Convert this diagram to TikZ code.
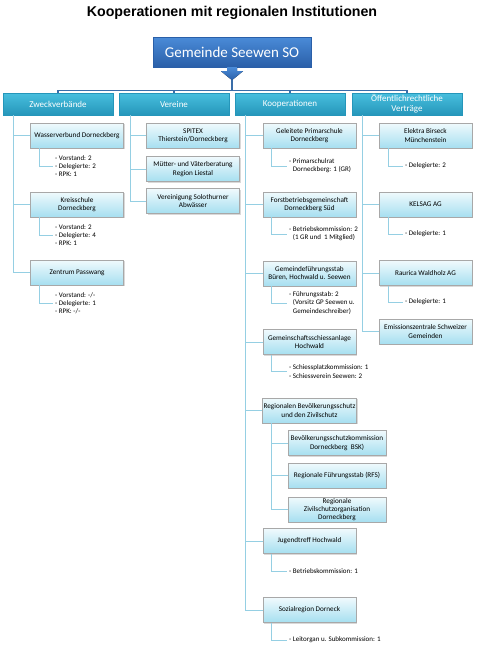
\documentclass[tikz,border=0pt]{standalone}
\usepackage{fontspec}
\setmainfont{Carlito}
\newfontfamily\titlefont{Liberation Sans}
\usetikzlibrary{shadows}

\definecolor{topA}{HTML}{4A8BD8}
\definecolor{topB}{HTML}{2A5FA8}
\definecolor{catA}{HTML}{48BFDE}
\definecolor{catB}{HTML}{2596BA}
\definecolor{itemA}{HTML}{F0FAFD}
\definecolor{itemB}{HTML}{A6DFF0}
\definecolor{itemline}{HTML}{A8A8A8}
\definecolor{busline}{HTML}{3A6DA8}
\definecolor{linkline}{HTML}{95CFE3}

\tikzset{%
  every node/.style={
    inner sep=1pt
  },
  softshadow/.style={
    drop shadow={shadow xshift=1.2pt, shadow yshift=-1.2pt, opacity=0.3}
  },
  topbox/.style={
    top color=topA, bottom color=topB, draw=topB, text=white,
    minimum width=158pt, minimum height=30pt, softshadow,
    font=\fontsize{15}{18}\selectfont
  },
  catbox/.style={
    top color=catA, bottom color=catB, draw=catB, text=white,
    minimum width=110pt, minimum height=22pt, align=center, softshadow,
    font=\fontsize{9}{10}\selectfont
  },
  itembox/.style={
    top color=itemA, bottom color=itemB, draw=itemline,
    minimum width=93pt, minimum height=25pt, align=center, softshadow,
    font=\fontsize{7.2}{8.3}\selectfont
  },
  note/.style={
    anchor=west, align=left, inner sep=2pt,
    font=\fontsize{7}{8.2}\selectfont
  },
  bus/.style={draw=busline, line width=1.3pt},
  link/.style={draw=linkline, line width=0.9pt}
}

\newcommand{\ind}{\phantom{- }}

\begin{document}
\begin{tikzpicture}[x=1pt,y=-1pt]
  \useasboundingbox (0,0) rectangle (480,645);

  % title and top
  \node at (232,12.5) (title) {\titlefont\fontsize{14.2}{16}\selectfont\bfseries Kooperationen mit regionalen Institutionen};
  \node[topbox] at (232,52) (gem) {Gemeinde Seewen SO};
  \fill[top color=topA, bottom color=topB]
    ([xshift=-5pt]gem.south) -- ++(0,4) -- ++(-6,0) -- ++(11,9)
    -- ++(11,-9) -- ++(-6,0) -- ++(0,-4) -- cycle;
  \coordinate (tip) at ([yshift=-13pt]gem.south);

  % four groups
  \node[catbox] at (58,104) (zw) {Zweckverbände};
  \node[catbox] at (174,104) (ver) {Vereine};
  \node[catbox] at (290,104) (koop) {Kooperationen};
  \node[catbox] at (407,104) (oeff) {Öffentlichrechtliche\\Verträge};
  \draw[bus] (tip) -- ++(0,10) -| (zw.north);
  \draw[bus] (tip) -- ++(0,10) -| (ver.north);
  \draw[bus] (tip) -- ++(0,10) -| (koop.north);
  \draw[bus] (tip) -- ++(0,10) -| (oeff.north);

  % Zweckverbaende
  \node[itembox] at (77,135.5) (wasser) {Wasserverbund Dorneckberg};
  \node[itembox] at (77,204.5) (kreis) {Kreisschule\\Dorneckberg};
  \node[itembox] at (77,272.5) (passw) {Zentrum Passwang};
  \node[note] at (53,166) (wassern) {- Vorstand: 2\\- Delegierte: 2\\- RPK: 1};
  \node[note] at (53,235) (kreisn) {- Vorstand: 2\\- Delegierte: 4\\- RPK: 1};
  \node[note] at (53,303) (passwn) {- Vorstand: -/-\\- Delegierte: 1\\- RPK: -/-};
  \draw[link] ([xshift=11pt]zw.south west) |- (wasser.west);
  \draw[link] ([xshift=11pt]zw.south west) |- (kreis.west);
  \draw[link] ([xshift=11pt]zw.south west) |- (passw.west);
  \draw[link] ([xshift=9pt]wasser.south west) |- (wassern.west);
  \draw[link] ([xshift=9pt]kreis.south west) |- (kreisn.west);
  \draw[link] ([xshift=9pt]passw.south west) |- (passwn.west);

  % Vereine
  \node[itembox] at (193,135.5) (spitex) {SPITEX\\Thierstein/Dorneckberg};
  \node[itembox] at (193,169) (mvb) {Mütter- und Väterberatung\\Region Liestal};
  \node[itembox] at (193,201) (vsa) {Vereinigung Solothurner\\Abwässer};
  \draw[link] ([xshift=12pt]ver.south west) |- (spitex.west);
  \draw[link] ([xshift=12pt]ver.south west) |- (mvb.west);
  \draw[link] ([xshift=12pt]ver.south west) |- (vsa.west);

  % Kooperationen
  \node[itembox] at (309.5,135.5) (prim) {Geleitete Primarschule\\Dorneckberg};
  \node[itembox] at (309.5,204.5) (forst) {Forstbetriebsgemeinschaft\\Dorneckberg Süd};
  \node[itembox] at (309.5,273.5) (gfs) {Gemeindeführungsstab\\Büren, Hochwald u. Seewen};
  \node[itembox] at (309.5,342) (schiess) {Gemeinschaftsschiessanlage\\Hochwald};
  \node[itembox] at (309.5,410.5) (bevs) {Regionalen Bevölkerungsschutz\\und den Zivilschutz};
  \node[itembox] at (309.5,541) (jugend) {Jugendtreff Hochwald};
  \node[itembox] at (309.5,610) (sozial) {Sozialregion Dorneck};
  \node[note] at (287,166) (primn) {- Primarschulrat\\\ind Dorneckberg: 1 (GR)};
  \node[note] at (287,234) (forstn) {- Betriebskommission: 2\\\ind (1 GR und\ \ 1 Mitglied)};
  \node[note] at (287,303) (gfsn) {- Führungsstab: 2\\\ind (Vorsitz GP Seewen u.\\\ind Gemeindeschreiber)};
  \node[note] at (287,371.5) (schiessn) {- Schiessplatzkommission: 1\\- Schiessverein Seewen: 2};
  \node[note] at (287,571) (jugendn) {- Betriebskommission: 1};
  \node[note] at (287,640) (sozialn) {- Leitorgan u. Subkommission: 1};
  \draw[link] ([xshift=11pt]koop.south west) |- (prim.west);
  \draw[link] ([xshift=11pt]koop.south west) |- (forst.west);
  \draw[link] ([xshift=11pt]koop.south west) |- (gfs.west);
  \draw[link] ([xshift=11pt]koop.south west) |- (schiess.west);
  \draw[link] ([xshift=11pt]koop.south west) |- (bevs.west);
  \draw[link] ([xshift=11pt]koop.south west) |- (jugend.west);
  \draw[link] ([xshift=11pt]koop.south west) |- (sozial.west);
  \draw[link] ([xshift=9pt]prim.south west) |- (primn.west);
  \draw[link] ([xshift=9pt]forst.south west) |- (forstn.west);
  \draw[link] ([xshift=9pt]gfs.south west) |- (gfsn.west);
  \draw[link] ([xshift=9pt]schiess.south west) |- (schiessn.west);
  \draw[link] ([xshift=9pt]jugend.south west) |- (jugendn.west);
  \draw[link] ([xshift=9pt]sozial.south west) |- (sozialn.west);

  % Bevoelkerungsschutz
  \node[itembox, minimum width=98pt] at (337,443) (bsk) {Bevölkerungsschutzkommission\\Dorneckberg\ \ BSK)};
  \node[itembox, minimum width=98pt] at (337,475.5) (rfs) {Regionale Führungsstab (RFS)};
  \node[itembox, minimum width=98pt] at (337,509.5) (rzso) {Regionale\\Zivilschutzorganisation\\Dorneckberg};
  \draw[link] ([xshift=9pt]bevs.south west) |- (bsk.west);
  \draw[link] ([xshift=9pt]bevs.south west) |- (rfs.west);
  \draw[link] ([xshift=9pt]bevs.south west) |- (rzso.west);

  % Oeffentlichrechtliche Vertraege
  \node[itembox] at (425.5,135.5) (ebm) {Elektra Birseck\\Münchenstein};
  \node[itembox] at (425.5,204.5) (kelsag) {KELSAG AG};
  \node[itembox] at (425.5,273) (raurica) {Raurica Waldholz AG};
  \node[itembox] at (425.5,331.5) (emz) {Emissionszentrale Schweizer\\Gemeinden};
  \node[note] at (403,166) (ebmn) {- Delegierte: 2};
  \node[note] at (403,234) (kelsagn) {- Delegierte: 1};
  \node[note] at (403,302) (rauricaln) {- Delegierte: 1};
  \draw[link] ([xshift=11pt]oeff.south west) |- (ebm.west);
  \draw[link] ([xshift=11pt]oeff.south west) |- (kelsag.west);
  \draw[link] ([xshift=11pt]oeff.south west) |- (raurica.west);
  \draw[link] ([xshift=11pt]oeff.south west) |- (emz.west);
  \draw[link] ([xshift=10pt]ebm.south west) |- (ebmn.west);
  \draw[link] ([xshift=10pt]kelsag.south west) |- (kelsagn.west);
  \draw[link] ([xshift=10pt]raurica.south west) |- (rauricaln.west);
\end{tikzpicture}
\end{document}
